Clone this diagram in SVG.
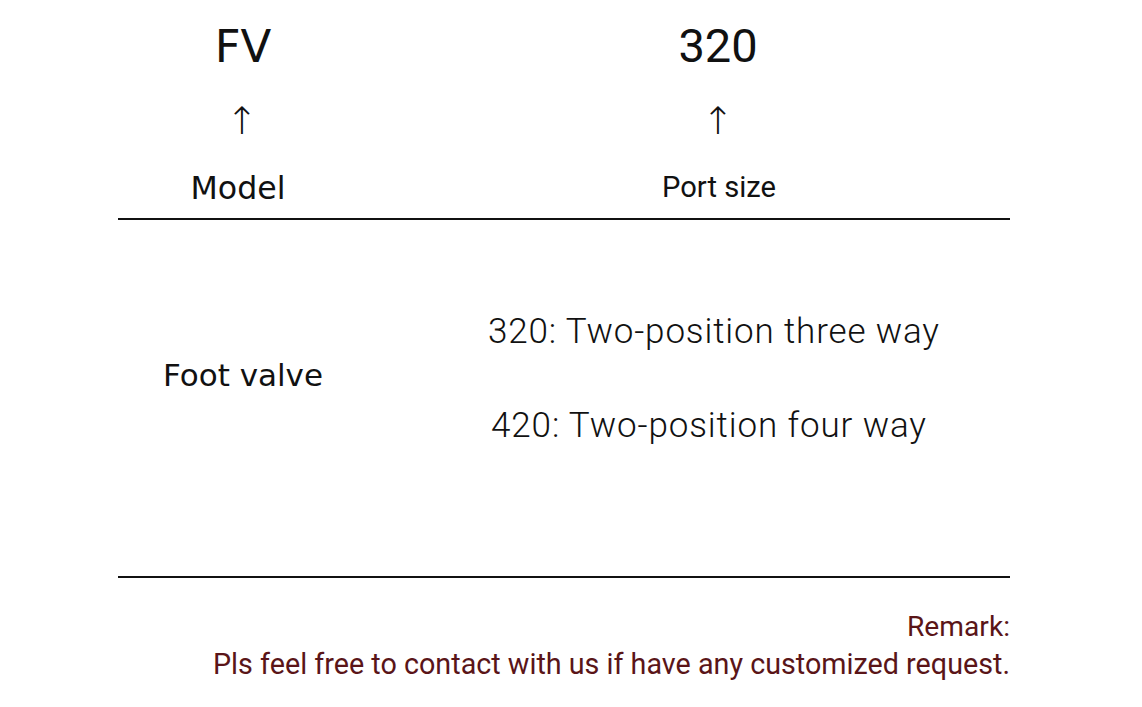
<svg xmlns="http://www.w3.org/2000/svg" width="1142" height="707" viewBox="0 0 1142 707">
<style>
.dv{font-family:"DejaVu Sans","Liberation Sans",sans-serif;fill:#111}
.rb{font-family:Roboto,"Liberation Sans",sans-serif;fill:#111}
.rm{font-family:Roboto,"Liberation Sans",sans-serif;fill:#5a1518}
.ln{stroke:#111;stroke-width:2;fill:none}
</style>
<rect width="1142" height="707" fill="#ffffff"/>
<g id="model-col">
<text class="dv" x="243" y="62" font-size="45" text-anchor="middle">FV</text>
<text class="dv" x="242" y="134" font-size="38" font-weight="300" text-anchor="middle">↑</text>
<text class="dv" x="238" y="199" font-size="32" text-anchor="middle" textLength="95" lengthAdjust="spacingAndGlyphs">Model</text>
</g>
<g id="port-col">
<text class="rb" x="718" y="62" font-size="47" text-anchor="middle">320</text>
<text class="dv" x="718" y="134" font-size="38" font-weight="300" text-anchor="middle">↑</text>
<text class="rb" x="719" y="197" font-size="29" text-anchor="middle" textLength="114" lengthAdjust="spacingAndGlyphs">Port size</text>
</g>
<g id="rules">
<line class="ln" x1="118" y1="219" x2="1010" y2="219"/>
<line class="ln" x1="118" y1="577" x2="1010" y2="577"/>
</g>
<g id="foot-valve">
<text class="dv" x="163" y="386" font-size="31" textLength="160" lengthAdjust="spacingAndGlyphs">Foot valve</text>
</g>
<g id="port-options">
<text class="rb" x="488" y="343" font-size="35" font-weight="300" textLength="451" lengthAdjust="spacing">320: Two-position three way</text>
<text class="rb" x="491" y="437" font-size="35" font-weight="300" textLength="435" lengthAdjust="spacing">420: Two-position four way</text>
</g>
<g id="remark">
<text class="rm" x="1010" y="636" font-size="28" text-anchor="end" textLength="103" lengthAdjust="spacingAndGlyphs">Remark:</text>
<text class="rm" x="213" y="674" font-size="29" textLength="797" lengthAdjust="spacingAndGlyphs">Pls feel free to contact with us if have any customized request.</text>
</g>
</svg>
